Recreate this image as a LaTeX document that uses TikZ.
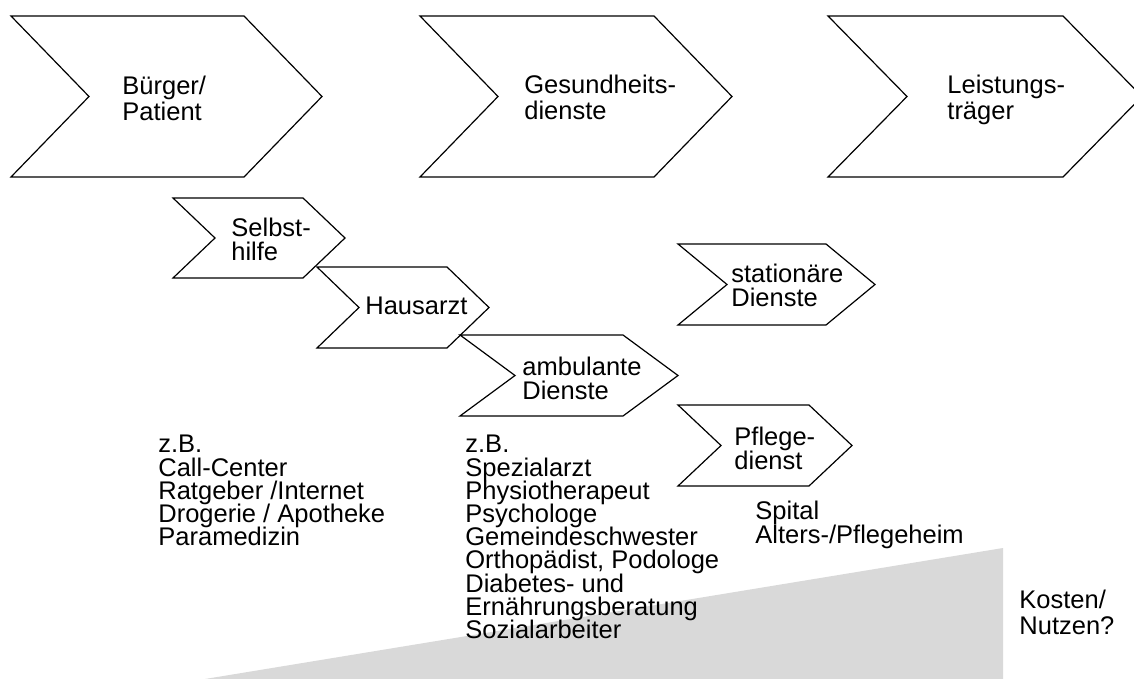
\documentclass[tikz,border=0pt]{standalone}
\usepackage{fontspec}
\setmainfont{Liberation Sans}
\lineskiplimit=-20pt
\tikzset{
  chev/.style={draw, line width=0.6pt, fill=white},
  txt/.style={anchor=north west, inner sep=0pt, align=left, font=\fontsize{12.75}{12}\selectfont},
  bigtxt/.style={txt, font=\fontsize{12.75}{12.75}\selectfont},
  listtxt/.style={txt, font=\fontsize{12.75}{11.6}\selectfont},
  kosten/.style={fill=black!15, draw=none}
}
% Pfeil: Name, x, y (oben links), Breite, Hoehe, Spitze
\newcommand{\pfeil}[6]{%
  \draw[chev] (#2,#3) coordinate (#1) -- ++(#4-#6,0) -- ++(#6,#5/2)
    -- ++(-#6,#5/2) -- ++(#6-#4,0) -- ++(#6,-#5/2) -- cycle;}
\begin{document}
\begin{tikzpicture}[x=0.5pt, y=-0.5pt]
        \useasboundingbox (0,0) rectangle (1134,679);
        % Keil Kosten/Nutzen
        \fill[kosten] (205,679) coordinate (k1) -- (1003,548) coordinate (k2) -- (1003,679) coordinate (k3) -- cycle;
        % Grosse Pfeile
        \pfeil{buerger}{11}{16}{311}{161}{78}
        \pfeil{dienste}{420}{16}{312}{161}{78}
        \pfeil{traeger}{828}{16}{314}{161}{79}
        \node[bigtxt] (buergertxt) at (122,76) {Bürger/\\Patient};
        \node[bigtxt] (dienstetxt) at (524,75) {Gesundheits-\\dienste};
        \node[bigtxt] (traegertxt) at (947,75) {Leistungs-\\träger};
        % Kleine Pfeile
        \pfeil{selbst}{173}{198}{172}{80}{42}
        \pfeil{hausarzt}{317}{267}{172}{81}{42}
        \pfeil{ambulant}{460}{335}{218}{81}{55}
        \pfeil{stationaer}{678}{244}{197}{81}{49}
        \pfeil{pflege}{678}{405}{174}{81}{43}
        \node[txt] (selbsttxt) at (231,218) {Selbst-\\hilfe};
        \node[txt] (hausarzttxt) at (365,297) {Hausarzt};
        \node[txt] (ambulanttxt) at (522,357) {ambulante\\Dienste};
        \node[txt] (stationaertxt) at (731,264) {stationäre\\Dienste};
        \node[txt] (pflegetxt) at (734,427) {Pflege-\\dienst};
        % Beispiele
        \node[listtxt] (bsp1) at (158,435) {z.B.\\Call-Center\\Ratgeber /Internet\\Drogerie / Apotheke\\Paramedizin};
        \node[listtxt] (bsp2) at (465,435) {z.B.\\Spezialarzt\\Physiotherapeut\\Psychologe\\Gemeindeschwester\\Orthopädist, Podologe\\Diabetes- und\\Ernährungsberatung\\Sozialarbeiter};
        \node[listtxt] (bsp3) at (755,501) {Spital\\Alters-/Pflegeheim};
        \node[bigtxt] (kostentxt) at (1019,590) {Kosten/\\Nutzen?};
\end{tikzpicture}
\end{document}
